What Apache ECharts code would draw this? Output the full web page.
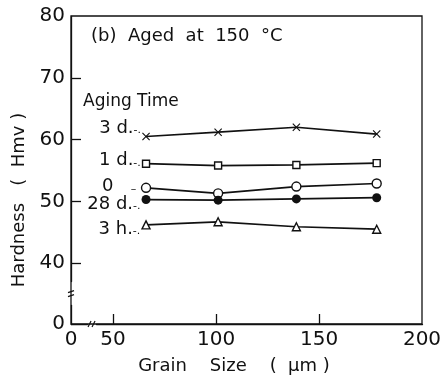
<!DOCTYPE html>
<html>
<head>
<meta charset="utf-8">
<script src="https://cdn.jsdelivr.net/npm/echarts@6/dist/echarts.min.js"></script>
<style>
  html, body { margin: 0; padding: 0; background: #fff; }
  #c { width: 448px; height: 380px; }
</style>
</head>
<body>
<div id="c"></div>
<script>
// Grain size (µm) of the four specimens
const grainSize = [66, 101, 139, 178];

// Hardness (Hmv) after aging at 150 °C, one array per aging time
const hard3d  = [60.5, 61.2, 62.0, 60.9];
const hard1d  = [56.1, 55.8, 55.9, 56.2];
const hard0   = [52.2, 51.3, 52.4, 52.9];
const hard28d = [50.3, 50.2, 50.4, 50.6];
const hard3h  = [46.2, 46.7, 45.9, 45.5];

// Axis tick labels
const xTickLabels = [0, 50, 100, 150, 200];
const xTickMarks  = [50, 100, 150];
const yTickLabels = [0, 40, 50, 60, 70, 80];
const yTickMarks  = [40, 50, 60, 70];

const FONT = 'DejaVu Sans';
const INK = '#111';
const NB = '\u00a0';

const crossPath = 'path://M0,1 L1,0 L5,4 L9,0 L10,1 L6,5 L10,9 L9,10 L5,6 L1,10 L0,9 L4,5 Z';

function pts(ys) {
  return grainSize.map((x, i) => [x, ys[i]]);
}

// First point of each curve carries the aging-time tag with a short leader
function tagged(ys, text, leader, dy) {
  const d = pts(ys);
  d[0] = {
    value: d[0],
    label: {
      show: true,
      position: 'left',
      distance: 1,
      offset: [0, dy],
      formatter: '{t|' + text + '}{l|' + leader + '}',
      rich: {
        t: { fontFamily: FONT, fontSize: 18, color: INK },
        l: { fontFamily: FONT, fontSize: 11, color: INK, padding: [4, 0, 0, 0] }
      }
    }
  };
  return d;
}

function series(name, ys, symbol, size, fill, leader, dy) {
  return {
    name: name,
    type: 'line',
    data: tagged(ys, name, leader, dy),
    symbol: symbol,
    symbolSize: size,
    showAllSymbol: true,
    lineStyle: { color: INK, width: 1.7 },
    itemStyle: { color: fill, borderColor: INK, borderWidth: fill === INK ? 0 : 1.4 },
    emphasis: { disabled: true },
    z: 3
  };
}

const chart = echarts.init(document.getElementById('c'), null, { renderer: 'canvas' });

chart.setOption({
  animation: false,
  backgroundColor: '#fff',
  grid: {
    left: 71, right: 26, top: 16, bottom: 55,
    show: true, borderColor: INK, borderWidth: 1.3, backgroundColor: 'transparent'
  },
  title: [
    { text: '(b)  Aged  at  150  °C', left: 86, top: 22,
      textStyle: { fontFamily: FONT, fontSize: 18, fontWeight: 'normal', color: INK } },
    { text: 'Aging Time', left: 78, top: 88,
      textStyle: { fontFamily: FONT, fontSize: 17, fontWeight: 'normal', color: INK } }
  ],
  xAxis: {
    type: 'value', min: 0, max: 200,
    breaks: [{ start: 8, end: 42, gap: '2.6%' }],
    breakArea: { show: false },
    name: 'Grain    Size    (  μm )',
    nameLocation: 'middle', nameGap: 33,
    nameTextStyle: { fontFamily: FONT, fontSize: 18, color: INK, padding: [0, 25, 0, 0] },
    axisLine: { onZero: false, lineStyle: { color: INK, width: 1.3 } },
    axisTick: { inside: true, length: 10, customValues: xTickMarks, lineStyle: { color: INK, width: 1.3 } },
    axisLabel: { customValues: xTickLabels, fontFamily: FONT, fontSize: 20, color: INK, margin: 6 },
    splitLine: { show: false }
  },
  yAxis: {
    type: 'value', min: 0, max: 80,
    breaks: [{ start: 3, end: 37, gap: '7.7%' }],
    breakArea: { show: false },
    name: 'Hardness   (  Hmv )',
    nameLocation: 'middle', nameGap: 29, nameRotate: 90,
    nameTextStyle: { fontFamily: FONT, fontSize: 18, color: INK, padding: [0, 60, 0, 0] },
    axisLine: { onZero: false, lineStyle: { color: INK, width: 1.3 } },
    axisTick: { inside: true, length: 10, customValues: yTickMarks, lineStyle: { color: INK, width: 1.3 } },
    axisLabel: { customValues: yTickLabels, fontFamily: FONT, fontSize: 20, color: INK, margin: 6 },
    splitLine: { show: false }
  },
  series: [
    series('3 d.', hard3d, crossPath, 8, INK, '-.', -8),
    series('1 d.', hard1d, 'rect', 7, '#fff', '-.', -3),
    series('0', hard0, 'circle', 9, '#fff', NB + NB + NB + NB + NB + '–' + NB, -1),
    series('28 d.', hard28d, 'circle', 9, INK, '-.', 5),
    series('3 h.', hard3h, 'triangle', 8, '#fff', '-.', 4)
  ]
});

// Small break marks on both axes, centred on each break
function breakMarks() {
  const x0 = chart.convertToPixel({ gridIndex: 0 }, [0, 0]);
  const xb1 = chart.convertToPixel({ xAxisIndex: 0 }, 8);
  const xb2 = chart.convertToPixel({ xAxisIndex: 0 }, 42);
  const yb1 = chart.convertToPixel({ yAxisIndex: 0 }, 3);
  const yb2 = chart.convertToPixel({ yAxisIndex: 0 }, 37);
  const xm = (xb1 + xb2) / 2;
  const ym = (yb1 + yb2) / 2;
  const ax = x0[0], ay = x0[1];
  const st = { stroke: INK, lineWidth: 1.2 };
  chart.setOption({
    graphic: [
      { type: 'line', shape: { x1: xm - 4, y1: ay + 3, x2: xm - 1, y2: ay - 3 }, style: st },
      { type: 'line', shape: { x1: xm, y1: ay + 3, x2: xm + 3, y2: ay - 3 }, style: st },
      { type: 'line', shape: { x1: ax - 3, y1: ym - 1, x2: ax + 3, y2: ym - 3 }, style: st },
      { type: 'line', shape: { x1: ax - 3, y1: ym + 3, x2: ax + 3, y2: ym + 1 }, style: st }
    ]
  });
}
breakMarks();
</script>
</body>
</html>
